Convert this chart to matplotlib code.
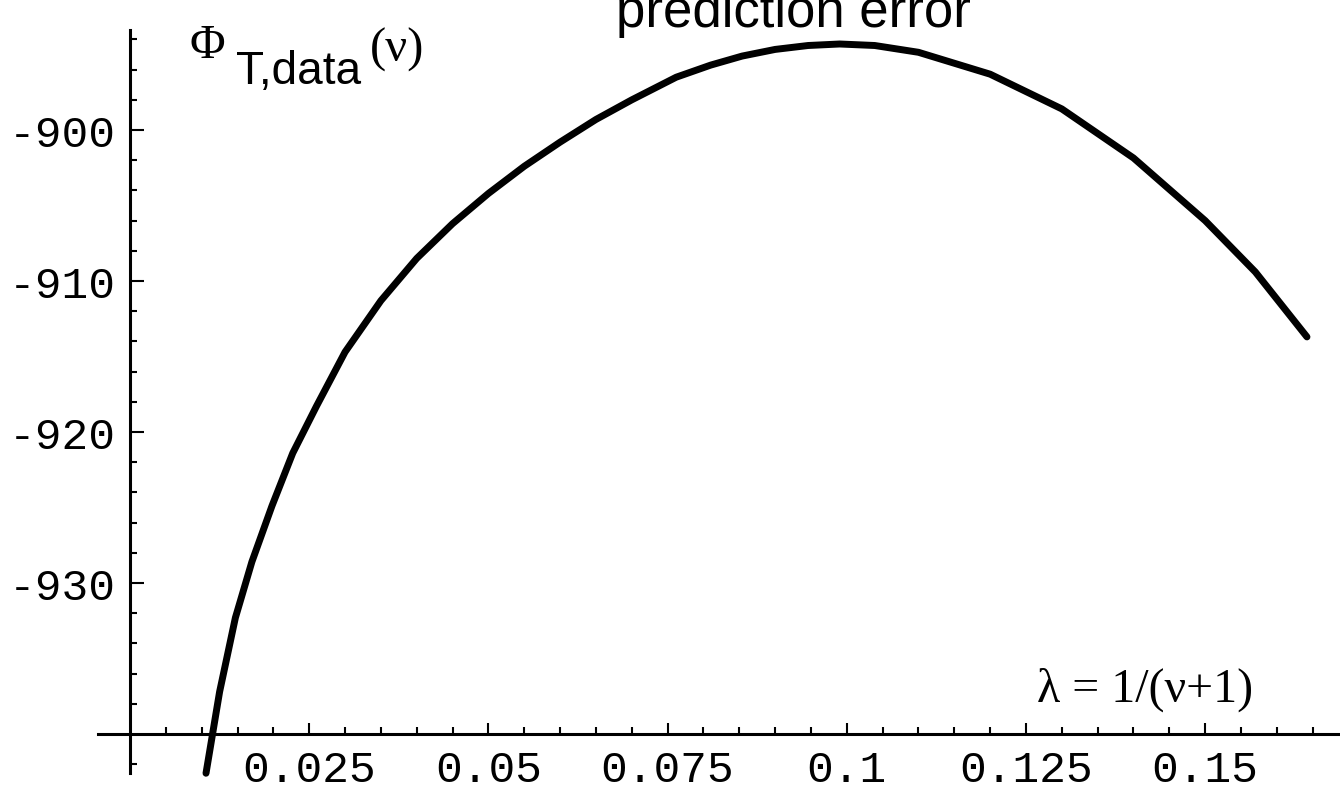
import matplotlib
matplotlib.use("Agg")
import matplotlib.pyplot as plt

# lambda = 1/(nu+1) against the data log-likelihood along the curve
lam = [0.0106, 0.0125, 0.0147, 0.0170, 0.0198, 0.0227, 0.026, 0.030, 0.035,
       0.040, 0.045, 0.050, 0.055, 0.060, 0.065, 0.070, 0.0762, 0.081, 0.0854,
       0.090, 0.0946, 0.099, 0.1039, 0.110, 0.120, 0.130, 0.140, 0.150, 0.157,
       0.1642]
phi = [-942.6, -937.2, -932.3, -928.6, -924.9, -921.4, -918.3, -914.7, -911.3,
       -908.5, -906.2, -904.2, -902.4, -900.8, -899.3, -898.0, -896.5, -895.7,
       -895.1, -894.66, -894.4, -894.3, -894.4, -894.85, -896.3, -898.6, -901.85,
       -906.0, -909.4, -913.7]

x_major = [0.025, 0.05, 0.075, 0.1, 0.125, 0.15]
x_labels = ["0.025", "0.05", "0.075", "0.1", "0.125", "0.15"]
x_minor = [0.005 * i for i in range(1, 34) if i % 5 != 0]
y_major = [-930, -920, -910, -900]
y_labels = ["-930", "-920", "-910", "-900"]
y_minor = [v for v in range(-942, -893, 2) if v % 10 != 0]

W, H = 1340, 812
fig = plt.figure(figsize=(W / 100, H / 100), dpi=100)
ax = fig.add_axes([0, 0, 1, 1])
ax.set_xlim(-0.01814, 0.16881)
ax.set_ylim(-945.1, -891.32)

ax.plot(lam, phi, color="black", lw=5, solid_capstyle="round",
        solid_joinstyle="round", zorder=3)

# Mathematica style axes crossing at (0, -940)
ax.spines["top"].set_visible(False)
ax.spines["right"].set_visible(False)
ax.spines["left"].set_position(("data", 0))
ax.spines["bottom"].set_position(("data", -940))
ax.spines["left"].set_bounds(-942.6, -893.4)
ax.spines["bottom"].set_bounds(-0.0045, 0.1688)
for s in ["left", "bottom"]:
    ax.spines[s].set_linewidth(2.2)

ax.set_xticks(x_major, x_labels)
ax.set_xticks(x_minor, minor=True)
ax.set_yticks(y_major, y_labels)
ax.set_yticks(y_minor, minor=True)
ax.tick_params(which="both", direction="in", width=1.5, colors="black")
ax.tick_params(axis="x", which="major", length=8, labelsize=32, pad=11)
ax.tick_params(axis="x", which="minor", length=5)
ax.tick_params(axis="y", which="major", length=10, labelsize=32, pad=10)
ax.tick_params(axis="y", which="minor", length=5)
for lbl in ax.get_xticklabels() + ax.get_yticklabels():
    lbl.set_family("Liberation Mono")


def px(x, y):
    return x / W, 1 - y / H


# title, clipped by the top edge
fig.text(*px(793, 27), "prediction error", fontsize=38, family="Liberation Sans",
         ha="center", va="baseline")

# y axis label built from three pieces
fig.text(*px(189, 58), "\u03a6", fontsize=35, family="Liberation Serif",
         va="baseline")
fig.text(*px(236, 84), "T,data", fontsize=33, family="Liberation Sans",
         va="baseline")
fig.text(*px(370, 62), "(\u03bd)", fontsize=35, family="Liberation Serif",
         va="baseline")

# x axis label
fig.text(*px(1037, 702), "\u03bb = 1/(\u03bd+1)", fontsize=34.5,
         family="Liberation Serif", va="baseline")

fig.savefig("out.png", dpi=100, facecolor="white")
